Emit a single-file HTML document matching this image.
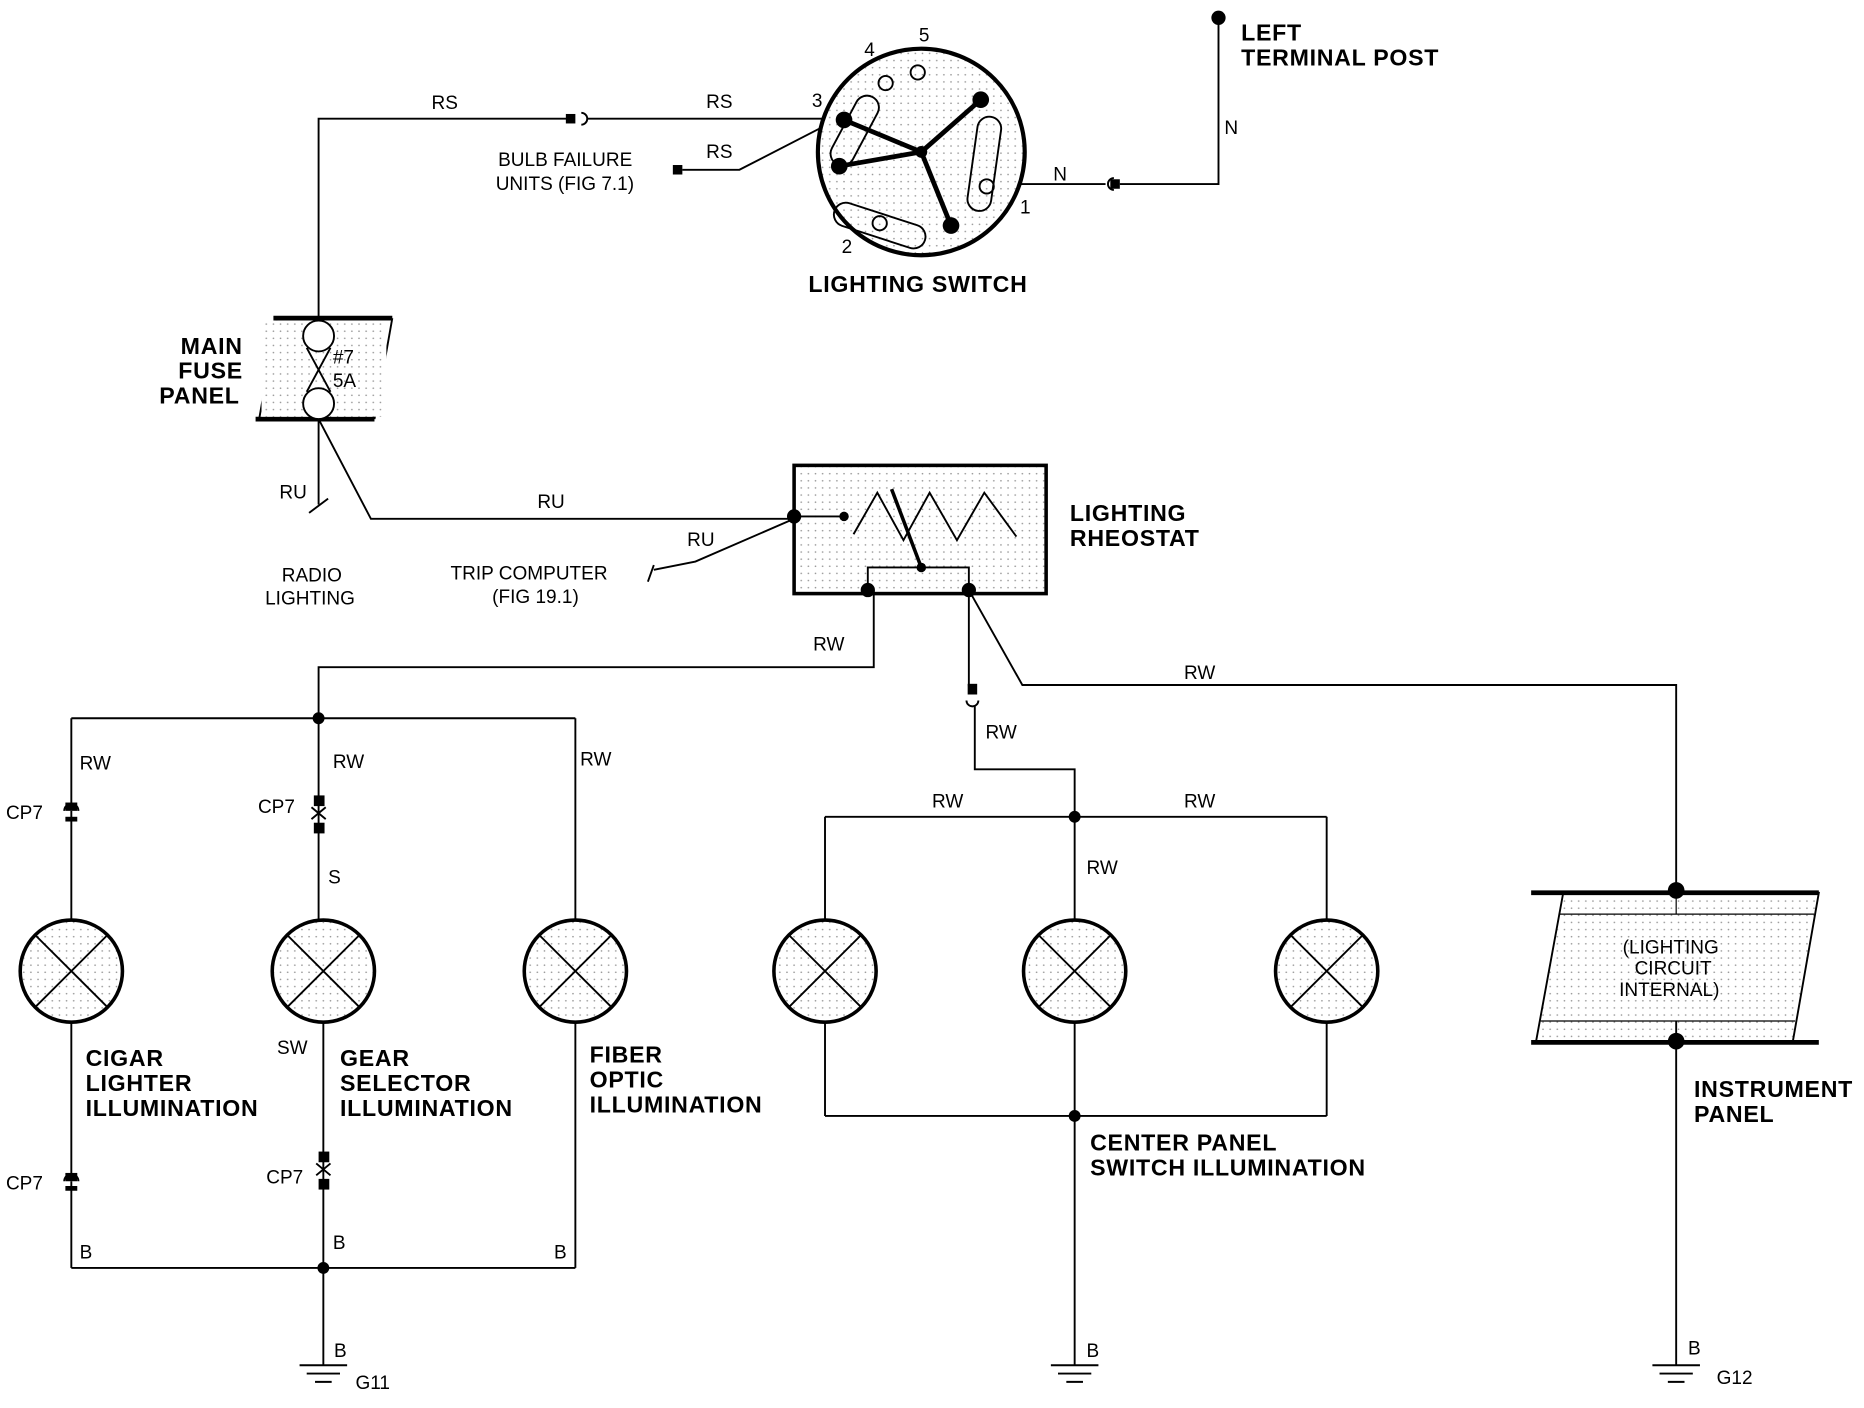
<!DOCTYPE html>
<html><head><meta charset="utf-8"><style>
html,body{margin:0;padding:0;background:#fff;}
svg{display:block;}
text{font-family:"Liberation Sans",sans-serif;fill:#000;}
.b{font-weight:bold;font-size:19.5px;letter-spacing:0.6px;}
.n{font-size:16px;}
</style></head><body>
<svg width="1864" height="1408" viewBox="0 0 1568 1186" preserveAspectRatio="none" xmlns="http://www.w3.org/2000/svg">
<defs>
<pattern id="dots" width="6" height="6" patternUnits="userSpaceOnUse"><rect width="6" height="6" fill="#fff"/><circle cx="2" cy="3" r="0.7" fill="#999"/></pattern>
</defs>
<g fill="none" stroke="#000" stroke-width="1.6">
<polyline points="268,270 268,100 482,100"/>
<path d="M489,95 a5,5 0 0 1 0,10"/>
<line x1="494" y1="100" x2="706" y2="100"/>
<polyline points="574,143 622,143 690,108"/>
<line x1="230" y1="268" x2="330" y2="268" stroke-width="4"/>
<line x1="215" y1="353" x2="315" y2="353" stroke-width="4"/>
<line x1="233" y1="268" x2="218" y2="353"/>
<line x1="330" y1="268" x2="315" y2="353"/>
<rect x="220" y="270" width="105" height="81" fill="url(#dots)" stroke="none"/>
<circle cx="268" cy="283" r="13" fill="#fff"/>
<circle cx="268" cy="340" r="13" fill="#fff"/>
<line x1="258" y1="293" x2="278" y2="330"/><line x1="278" y1="293" x2="258" y2="330"/>
<line x1="268" y1="353" x2="268" y2="425"/>
<line x1="260" y1="432" x2="276" y2="420"/>
<polyline points="268,353 312,437 668,437"/>
<polyline points="550,480 585,473 668,437"/>
<line x1="545" y1="490" x2="550" y2="476"/>
<rect x="668" y="392" width="212" height="108" fill="url(#dots)" stroke-width="3"/>
<polyline points="668,435 710,435"/>
<polyline points="718,450 738,415 760,455 782,415 805,455 828,415 855,452"/>
<line x1="750" y1="412" x2="775" y2="478" stroke-width="3"/>
<polyline points="730,497 730,478 815,478 815,497"/>
<polyline points="735,497 735,562 268,562 268,605"/>
<line x1="60" y1="605" x2="484" y2="605"/>
<line x1="60" y1="605" x2="60" y2="775"/>
<line x1="268" y1="605" x2="268" y2="775"/>
<line x1="484" y1="605" x2="484" y2="775"/>
<line x1="60" y1="861" x2="60" y2="1068"/>
<line x1="272" y1="861" x2="272" y2="1150"/>
<line x1="484" y1="861" x2="484" y2="1068"/>
<line x1="60" y1="1068" x2="484" y2="1068"/>
<polyline points="815,497 815,578"/>
<path d="M813,590 a5,5 0 0 0 10,0"/>
<polyline points="820,595 820,648 904,648 904,940"/>
<polyline points="815,497 860,577 1410,577 1410,752"/>
<line x1="694" y1="688" x2="1116" y2="688"/>
<line x1="694" y1="688" x2="694" y2="940"/>
<line x1="1116" y1="688" x2="1116" y2="940"/>
<line x1="694" y1="940" x2="1116" y2="940"/>
<line x1="904" y1="940" x2="904" y2="1150"/>
<polygon points="1315,752 1530,752 1508,878 1292,878" fill="url(#dots)" stroke-width="1.6"/>
<line x1="1288" y1="752" x2="1530" y2="752" stroke-width="4"/>
<line x1="1288" y1="878" x2="1530" y2="878" stroke-width="4"/>
<line x1="1312" y1="770" x2="1526" y2="770" stroke-width="1"/>
<line x1="1296" y1="860" x2="1510" y2="860" stroke-width="1"/>
<line x1="1410" y1="752" x2="1410" y2="770" stroke-width="1"/>
<line x1="1410" y1="860" x2="1410" y2="1150"/>
<polyline points="1025,15 1025,155 942,155"/>
<path d="M937,150 a5,5 0 0 0 0,10"/>
<line x1="930" y1="155" x2="848" y2="155"/>
<circle cx="775" cy="128" r="87" stroke-width="3.5" fill="url(#dots)"/>
<rect x="709" y="78" width="20" height="64" rx="10" transform="rotate(28 719 110)"/>
<rect x="700" y="180" width="80" height="20" rx="10" transform="rotate(18 740 190)"/>
<rect x="818" y="98" width="20" height="80" rx="10" transform="rotate(8 828 138)"/>
<circle cx="745" cy="70" r="6"/><circle cx="772" cy="61" r="6"/>
<circle cx="740" cy="188" r="6"/><circle cx="830" cy="157" r="6"/>
<g stroke-width="4"><line x1="775" y1="128" x2="710" y2="101"/><line x1="775" y1="128" x2="706" y2="140"/><line x1="775" y1="128" x2="825" y2="84"/><line x1="775" y1="128" x2="800" y2="190"/></g>
<g fill="url(#dots)" stroke-width="3">
<circle cx="60" cy="818" r="43"/><circle cx="272" cy="818" r="43"/><circle cx="484" cy="818" r="43"/>
<circle cx="694" cy="818" r="43"/><circle cx="904" cy="818" r="43"/><circle cx="1116" cy="818" r="43"/>
</g>
<g stroke-width="1.6">
<path d="M30,788 L90,848 M90,788 L30,848"/><path d="M242,788 L302,848 M302,788 L242,848"/><path d="M454,788 L514,848 M514,788 L454,848"/>
<path d="M664,788 L724,848 M724,788 L664,848"/><path d="M874,788 L934,848 M934,788 L874,848"/><path d="M1086,788 L1146,848 M1146,788 L1086,848"/>
</g>
<g stroke-width="1.6">
<path d="M252,1150 H292 M258,1157 H286 M265,1164 H279"/>
<path d="M884,1150 H924 M890,1157 H918 M897,1164 H911"/>
<path d="M1390,1150 H1430 M1396,1157 H1424 M1403,1164 H1417"/>
</g>
<path d="M54,683 a6,6 0 0 1 12,0" fill="#fff"/>
<path d="M54,995 a6,6 0 0 1 12,0" fill="#fff"/>
<path d="M262,690 L274,680 M262,680 L274,690"/>
<path d="M266,990 L278,980 M266,980 L278,990"/>
</g>
<g fill="#000">
<rect x="476" y="96" width="8" height="8"/><rect x="566" y="139" width="8" height="8"/>
<rect x="934" y="151" width="8" height="8"/>
<rect x="814" y="576" width="8" height="9"/>
<rect x="55" y="676" width="10" height="7"/><rect x="55" y="688" width="10" height="4"/>
<rect x="55" y="988" width="10" height="7"/><rect x="55" y="999" width="10" height="4"/>
<rect x="264" y="670" width="9" height="9"/><rect x="264" y="693" width="9" height="9"/>
<rect x="268" y="970" width="9" height="9"/><rect x="268" y="993" width="9" height="9"/>
<circle cx="1025" cy="15" r="6"/>
<circle cx="710" cy="101" r="7"/><circle cx="706" cy="140" r="7"/><circle cx="825" cy="84" r="7"/><circle cx="800" cy="190" r="7"/><circle cx="775" cy="128" r="5"/>
<circle cx="668" cy="435" r="6"/><circle cx="710" cy="435" r="4"/><circle cx="775" cy="478" r="4"/>
<circle cx="730" cy="497" r="6"/><circle cx="815" cy="497" r="6"/>
<circle cx="268" cy="605" r="5"/><circle cx="272" cy="1068" r="5"/>
<circle cx="904" cy="688" r="5"/><circle cx="904" cy="940" r="5"/>
<circle cx="1410" cy="750" r="7"/><circle cx="1410" cy="877" r="7"/>
</g>
<g class="n">
<text x="363" y="92">RS</text><text x="594" y="91">RS</text><text x="594" y="133">RS</text>
<text x="419" y="140">BULB FAILURE</text><text x="417" y="160">UNITS (FIG 7.1)</text>
<text x="683" y="90">3</text><text x="727" y="47">4</text><text x="773" y="35">5</text>
<text x="708" y="213">2</text><text x="858" y="180">1</text>
<text x="886" y="152">N</text><text x="1030" y="113">N</text>
<text x="280" y="306">#7</text><text x="280" y="326">5A</text>
<text x="235" y="420">RU</text><text x="452" y="428">RU</text><text x="578" y="460">RU</text>
<text x="237" y="490">RADIO</text><text x="223" y="509">LIGHTING</text>
<text x="379" y="488">TRIP COMPUTER</text><text x="414" y="508">(FIG 19.1)</text>
<text x="684" y="548">RW</text><text x="996" y="572">RW</text><text x="829" y="622">RW</text>
<text x="67" y="648">RW</text><text x="280" y="647">RW</text><text x="488" y="645">RW</text>
<text x="784" y="680">RW</text><text x="996" y="680">RW</text><text x="914" y="736">RW</text>
<text x="5" y="690">CP7</text><text x="217" y="685">CP7</text>
<text x="5" y="1002">CP7</text><text x="224" y="997">CP7</text>
<text x="276" y="744">S</text><text x="233" y="888">SW</text>
<text x="67" y="1060">B</text><text x="280" y="1052">B</text><text x="466" y="1060">B</text>
<text x="281" y="1143">B</text><text x="914" y="1143">B</text><text x="1420" y="1141">B</text>
<text x="299" y="1170">G11</text><text x="1444" y="1166">G12</text>
<text x="1365" y="803">(LIGHTING</text><text x="1375" y="821">CIRCUIT</text><text x="1362" y="839">INTERNAL)</text>
</g>
<g class="b">
<text x="1044" y="34">LEFT</text><text x="1044" y="55">TERMINAL POST</text>
<text x="680" y="246">LIGHTING SWITCH</text>
<text x="152" y="298">MAIN</text><text x="150" y="319">FUSE</text><text x="134" y="340">PANEL</text>
<text x="900" y="439">LIGHTING</text><text x="900" y="460">RHEOSTAT</text>
<text x="72" y="898">CIGAR</text><text x="72" y="919">LIGHTER</text><text x="72" y="940">ILLUMINATION</text>
<text x="286" y="898">GEAR</text><text x="286" y="919">SELECTOR</text><text x="286" y="940">ILLUMINATION</text>
<text x="496" y="895">FIBER</text><text x="496" y="916">OPTIC</text><text x="496" y="937">ILLUMINATION</text>
<text x="917" y="969">CENTER PANEL</text><text x="917" y="990">SWITCH  ILLUMINATION</text>
<text x="1425" y="924">INSTRUMENT</text><text x="1425" y="945">PANEL</text>
</g>
</svg>
</body></html>
